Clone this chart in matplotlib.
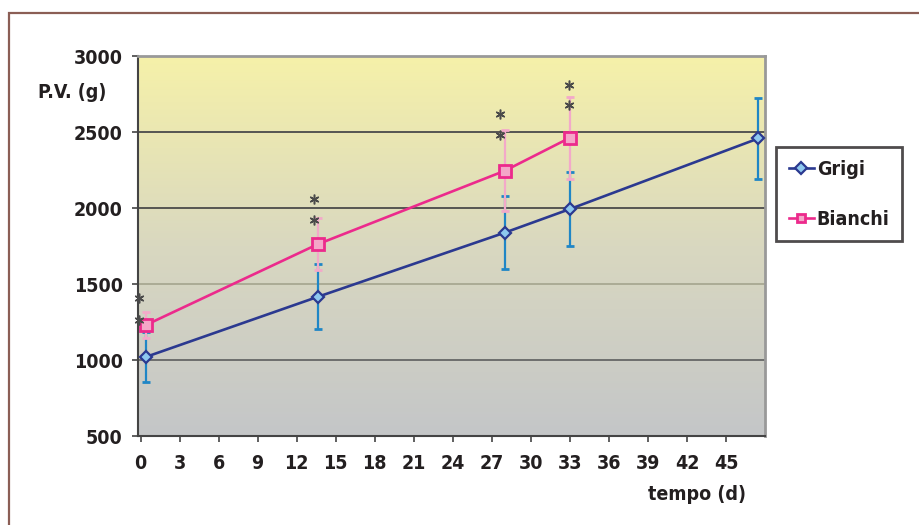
import numpy as np
import matplotlib.pyplot as plt
from matplotlib.colors import LinearSegmentedColormap
from matplotlib.patches import Rectangle

# dati
giorni_grigi = [0.4, 13.6, 28.0, 33.0, 47.5]
pv_grigi = [1020, 1415, 1838, 1993, 2458]
err_grigi = [165, 214, 240, 243, 267]

giorni_bianchi = [0.4, 13.6, 28.0, 33.0]
pv_bianchi = [1230, 1761, 2245, 2462]
err_bianchi = [87, 172, 266, 270]

# asterischi di significativita'
ast_x = [-0.1, -0.1, 13.3, 13.3, 27.6, 27.6, 32.9, 32.9]
ast_y = [1408, 1263, 2059, 1921, 2618, 2480, 2809, 2678]

x_ticks = list(range(0, 46, 3))
y_ticks = [500, 1000, 1500, 2000, 2500, 3000]

plt.rcParams['font.family'] = ['DejaVu Sans Condensed', 'DejaVu Sans']
plt.rcParams['font.stretch'] = 'condensed'
plt.rcParams['font.weight'] = 'bold'

W, H = 920, 525
fig = plt.figure(figsize=(W / 100, H / 100), dpi=100)
fig.patch.set_facecolor('white')

# cornice esterna
fig.patches.append(Rectangle((9 / W, -0.1), 1.2, 1 - 13 / H + 0.1, transform=fig.transFigure,
                             fill=False, edgecolor='#8b5e55', linewidth=1.6))

ax = fig.add_axes([138 / W, 1 - 436 / H, (765 - 138) / W, (436 - 56) / H])
ax.set_xlim(-0.2, 48)
ax.set_ylim(500, 3000)

# sfondo sfumato
grad = LinearSegmentedColormap.from_list('bg', ['#c4c6c8', '#d9d8c0', '#f6f1a9'])
ax.imshow(np.linspace(0, 1, 256).reshape(-1, 1), cmap=grad, aspect='auto',
          extent=[-0.2, 48, 500, 3000], origin='lower', zorder=0)

grid_cols = ['#666666', '#a8a892', '#4a4a4a', '#4a4a4a']
for yv, c in zip(y_ticks[1:-1], grid_cols):
    ax.axhline(yv, color=c, linewidth=1.3, zorder=1)

ax.errorbar(giorni_grigi, pv_grigi, yerr=err_grigi, fmt='none', ecolor='#1f86c6',
            elinewidth=1.6, capsize=3.2, capthick=2, zorder=2)
ax.errorbar(giorni_bianchi, pv_bianchi, yerr=err_bianchi, fmt='none', ecolor='#f3a9c9',
            elinewidth=1.6, capsize=3.2, capthick=2, zorder=2)

ax.plot(giorni_grigi, pv_grigi, color='#2b3990', linewidth=1.9, marker='D', markersize=6.5,
        markerfacecolor='#8ec8ef', markeredgecolor='#2b3990', markeredgewidth=1.6,
        label='Grigi', zorder=4)
ax.plot(giorni_bianchi, pv_bianchi, color='#ec2a8c', linewidth=1.9, marker='s', markersize=9,
        markerfacecolor='#f4a6c8', markeredgecolor='#ec2a8c', markeredgewidth=2,
        label='Bianchi', zorder=4)

ax.plot(ast_x, ast_y, linestyle='none', marker=(6, 2, 0), markersize=7, markeredgewidth=1.1,
        color='#4a4a4a', zorder=5, clip_on=False)

ax.set_xticks(x_ticks)
ax.set_yticks(y_ticks)
ax.tick_params(axis='both', labelsize=14, length=4, width=1.2, color='#444444', direction='out')
ax.tick_params(axis='x', pad=9)
ax.tick_params(axis='y', pad=7)
for lab in ax.get_xticklabels() + ax.get_yticklabels():
    lab.set_fontweight('bold')
    lab.set_color('#231f20')

for s in ['left', 'bottom']:
    ax.spines[s].set_color('#444444')
    ax.spines[s].set_linewidth(1.5)
for s in ['top', 'right']:
    ax.spines[s].set_color('#999999')
    ax.spines[s].set_linewidth(2)

fig.text(72 / W, 1 - 92 / H, 'P.V. (g)', ha='center', va='center', fontsize=14,
         fontweight='bold', color='#231f20')
fig.text(697 / W, 1 - 494 / H, 'tempo (d)', ha='center', va='center', fontsize=14,
         fontweight='bold', color='#231f20')

leg = fig.legend(loc='upper left', bbox_to_anchor=(776 / W, 1 - 147 / H), fontsize=14,
                 frameon=True, fancybox=False, handlelength=1.3, handletextpad=0.15,
                 labelspacing=1.6, borderpad=0.65, borderaxespad=0)
leg.get_frame().set_edgecolor('#231f20')
leg.get_frame().set_linewidth(2)
for t in leg.get_texts():
    t.set_fontweight('bold')
    t.set_color('#231f20')
for h in leg.legend_handles:
    h.set_markersize(6)

fig.savefig('out.png', dpi=100)
